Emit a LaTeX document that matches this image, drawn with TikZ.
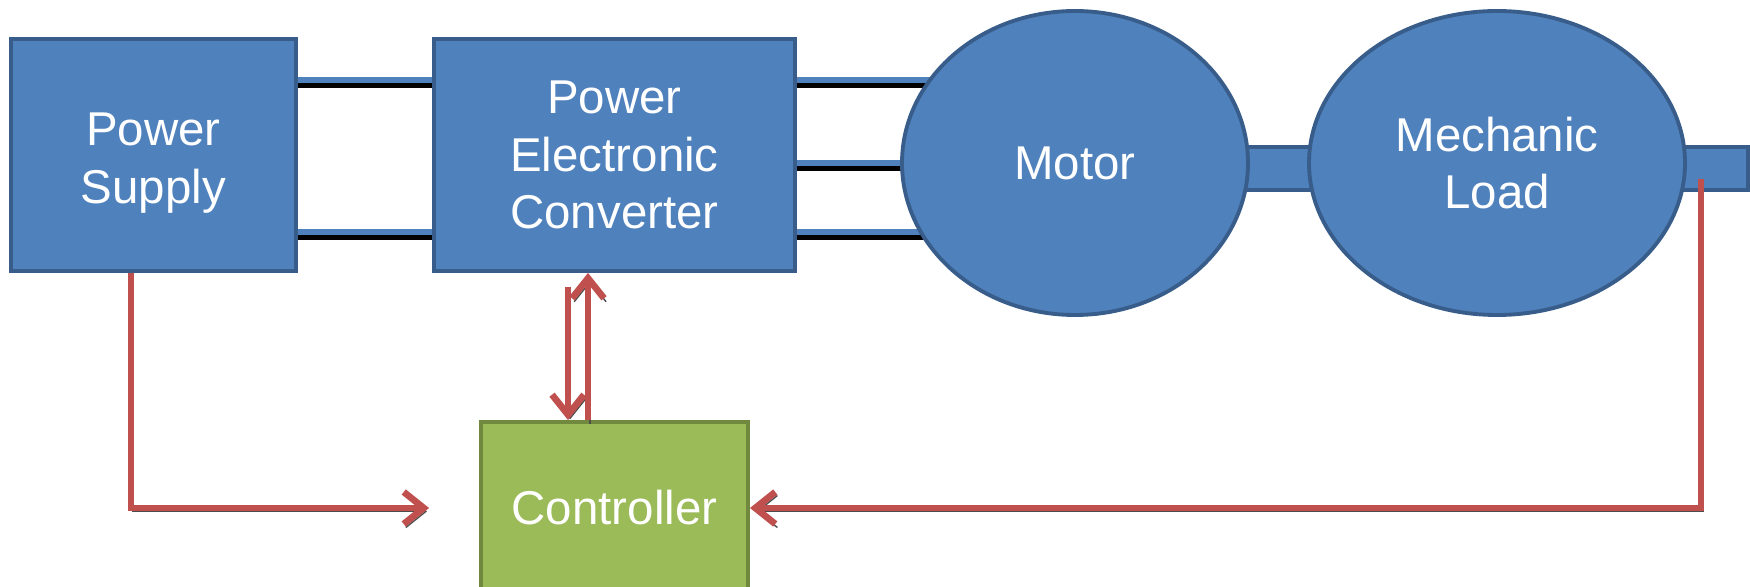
\documentclass[tikz,border=0pt]{standalone}
\usepackage{fontspec}
\setmainfont{Liberation Sans}
\usepackage{tikz}
\usetikzlibrary{arrows.meta,positioning,calc,shapes.geometric,backgrounds}
\usepackage{xcolor}
\definecolor{boxblue}{HTML}{4F81BD}
\definecolor{edgeblue}{HTML}{385D8A}
\definecolor{boxgreen}{HTML}{9BBB59}
\definecolor{edgegreen}{HTML}{71893F}
\definecolor{sigred}{HTML}{C0504D}
\tikzset{
  block/.style   = {draw=edgeblue, fill=boxblue, line width=1.1pt, rectangle,
                    text=white, align=center, inner sep=0pt},
  machine/.style = {draw=edgeblue, fill=boxblue, line width=1.1pt, ellipse,
                    text=white, align=center, inner sep=0pt},
  ctrlbox/.style = {draw=edgegreen, fill=boxgreen, line width=1.1pt, rectangle,
                    text=white, align=center, inner sep=0pt},
  wire/.style    = {draw=boxblue, line width=1.7pt,
                    preaction={draw=black, line width=1.4pt,
                               transform canvas={yshift=-1.6pt}}},
  shaft/.style   = {draw=edgeblue, fill=boxblue, line width=1.1pt},
  sig/.style     = {-{Straight Barb[length=2mm,width=3.2mm]}, line width=1.9pt,
                    draw=sigred,
                    preaction={draw=black!70,
                               transform canvas={shift={(0.6pt,-1pt)}}}},
}

\begin{document}
\begin{tikzpicture}[x=1cm,y=1cm,font=\fontsize{13.5}{16.4}\selectfont]
\useasboundingbox (0,0) rectangle (17.5,5.86);
% ---------- power path ----------
\node[block, minimum width=2.85cm, minimum height=2.32cm] (PS) at (1.535,4.31) {};
\node[text=white, align=center] (PStext) at ([yshift=-0.08cm]PS.center)
  {Power\\Supply};
\node[block, minimum width=3.61cm, minimum height=2.32cm] (PEC) at (6.145,4.31)
  {Power\\Electronic\\Converter};
\node[machine, minimum width=3.46cm, minimum height=3.04cm] (Motor) at (10.75,4.23)
  {Motor};
\node[machine, minimum width=3.76cm, minimum height=3.04cm] (Load) at (14.97,4.23)
  {Mechanic\\Load};
\coordinate (shaftend) at (17.48,3.96);
\begin{scope}[on background layer]
\draw[shaft] ($(Motor.center)+(0,0.16)$) rectangle ($(Load.center)+(0,-0.27)$);
\draw[shaft] ($(Load.center)+(0,0.16)$) rectangle (shaftend);
\draw[wire] ([yshift=0.75cm]PEC.east) coordinate (w1) -- (Motor.center |- w1);
\draw[wire] ([yshift=-0.08cm]PEC.east) coordinate (w2) -- (Motor.center |- w2);
\draw[wire] ([yshift=-0.77cm]PEC.east) coordinate (w3) -- (Motor.center |- w3);
\end{scope}
\draw[wire] ([yshift=0.75cm]PS.east) -- ([yshift=0.75cm]PEC.west);
\draw[wire] ([yshift=-0.77cm]PS.east) -- ([yshift=-0.77cm]PEC.west);
% ---------- control ----------
\node[ctrlbox, minimum width=2.67cm, minimum height=1.72cm] (Ctrl) at (6.145,0.78)
  {Controller};
\coordinate (fbk) at (17.01,4.07);
\draw[sig] ([xshift=-0.225cm]PS.south) |- ([xshift=-0.5cm]Ctrl.west);
\draw[sig] ([xshift=-0.465cm,yshift=-0.14cm]PEC.south) -- ([xshift=-0.465cm]Ctrl.north);
\draw[sig] ([xshift=-0.265cm]Ctrl.north) -- ([xshift=-0.265cm]PEC.south);
\draw[sig] (fbk) |- (Ctrl.east);
\end{tikzpicture}
\end{document}
